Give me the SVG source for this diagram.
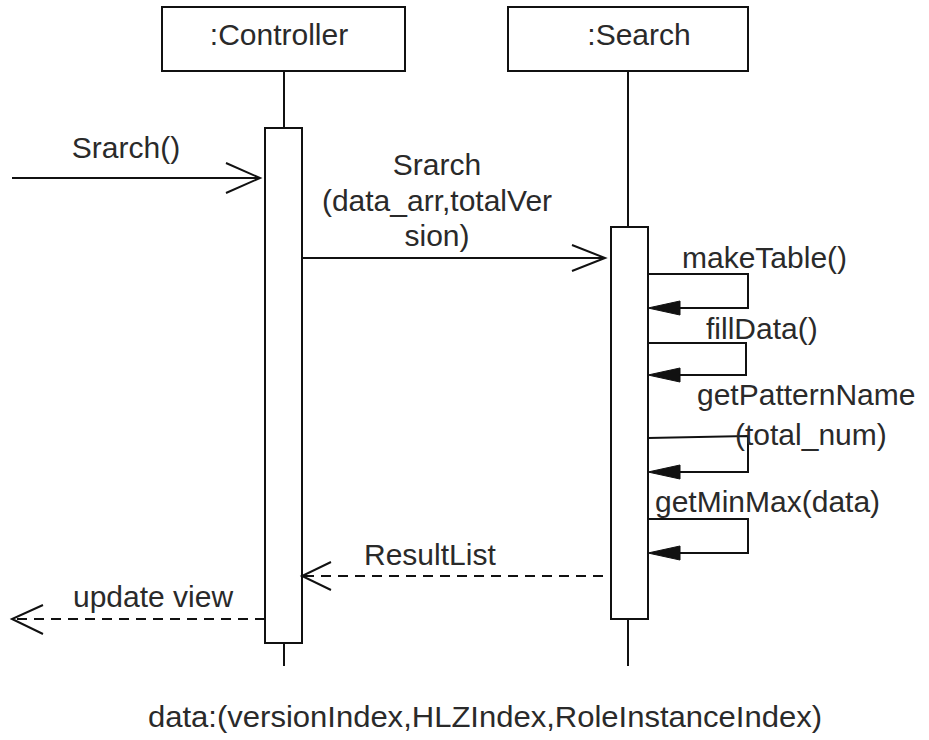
<svg xmlns="http://www.w3.org/2000/svg" width="929" height="740" viewBox="0 0 929 740">
<style>
.box{fill:#fff;stroke:#111;stroke-width:2}
.life{stroke:#111;stroke-width:2;fill:none}
.msg{stroke:#111;stroke-width:2;fill:none}
.dash{stroke:#111;stroke-width:2;fill:none;stroke-dasharray:10 7}
.head{stroke:#111;stroke-width:2;fill:none}
.fhead{fill:#111;stroke:#111;stroke-width:1}
text{font-family:"Liberation Sans",Arial,sans-serif;font-size:30px;fill:#2a2a2a}
</style>
<rect width="929" height="740" fill="#fff"/>
<g id="controller">
<rect class="box" x="162" y="7" width="243" height="64"/>
<text x="279" y="45" text-anchor="middle">:Controller</text>
<line class="life" x1="284" y1="71" x2="284" y2="128"/>
<line class="life" x1="284" y1="643" x2="284" y2="666"/>
<rect class="box" x="265" y="128" width="37" height="515"/>
</g>
<g id="search">
<rect class="box" x="508" y="7" width="240" height="64"/>
<text x="639" y="45" text-anchor="middle">:Search</text>
<line class="life" x1="628" y1="71" x2="628" y2="227"/>
<line class="life" x1="628" y1="619" x2="628" y2="666"/>
<rect class="box" x="611" y="227" width="37" height="392"/>
</g>
<g id="connectors">
<g id="m-srarch">
<line class="msg" x1="12" y1="178" x2="259" y2="178"/>
<polyline class="head" points="226,163 260,178 226,193"/>
<text x="126" y="158" text-anchor="middle">Srarch()</text>
</g>
<g id="m-srarch2">
<line class="msg" x1="303" y1="258" x2="604" y2="258"/>
<polyline class="head" points="572,245 605,258 572,271"/>
<text x="437" y="175" text-anchor="middle">Srarch</text>
<text x="437" y="211" text-anchor="middle">(data_arr,totalVer</text>
<text x="437" y="246" text-anchor="middle">sion)</text>
</g>
<g id="m-maketable">
<polyline class="msg" points="648,274 748,274 748,308 680,308"/>
<polygon class="fhead" points="648,308 680,301 680,315"/>
<text x="682" y="268">makeTable()</text>
</g>
<g id="m-filldata">
<polyline class="msg" points="648,343 746,343 746,375 680,375"/>
<polygon class="fhead" points="648,375 680,368 680,382"/>
<text x="706" y="339">fillData()</text>
</g>
<g id="m-getpattern">
<polyline class="msg" points="648,438 748,436 748,472 680,472"/>
<polygon class="fhead" points="648,472 680,465 680,479"/>
<text x="697" y="405">getPatternName</text>
<text x="735" y="445">(total_num)</text>
</g>
<g id="m-getminmax">
<polyline class="msg" points="648,519 748,519 748,553 680,553"/>
<polygon class="fhead" points="648,553 680,546 680,560"/>
<text x="655" y="512">getMinMax(data)</text>
</g>
<g id="m-resultlist">
<line class="dash" x1="603" y1="576" x2="304" y2="576"/>
<polyline class="head" points="331,562 302,576 331,590"/>
<text x="364" y="565">ResultList</text>
</g>
<g id="m-updateview">
<line class="dash" x1="265" y1="619" x2="14" y2="619"/>
<polyline class="head" points="43,605 12,619 43,634"/>
<text x="73" y="607">update view</text>
</g>
</g>
<text x="148" y="727" textLength="674" lengthAdjust="spacingAndGlyphs">data:(versionIndex,HLZIndex,RoleInstanceIndex)</text>
</svg>
